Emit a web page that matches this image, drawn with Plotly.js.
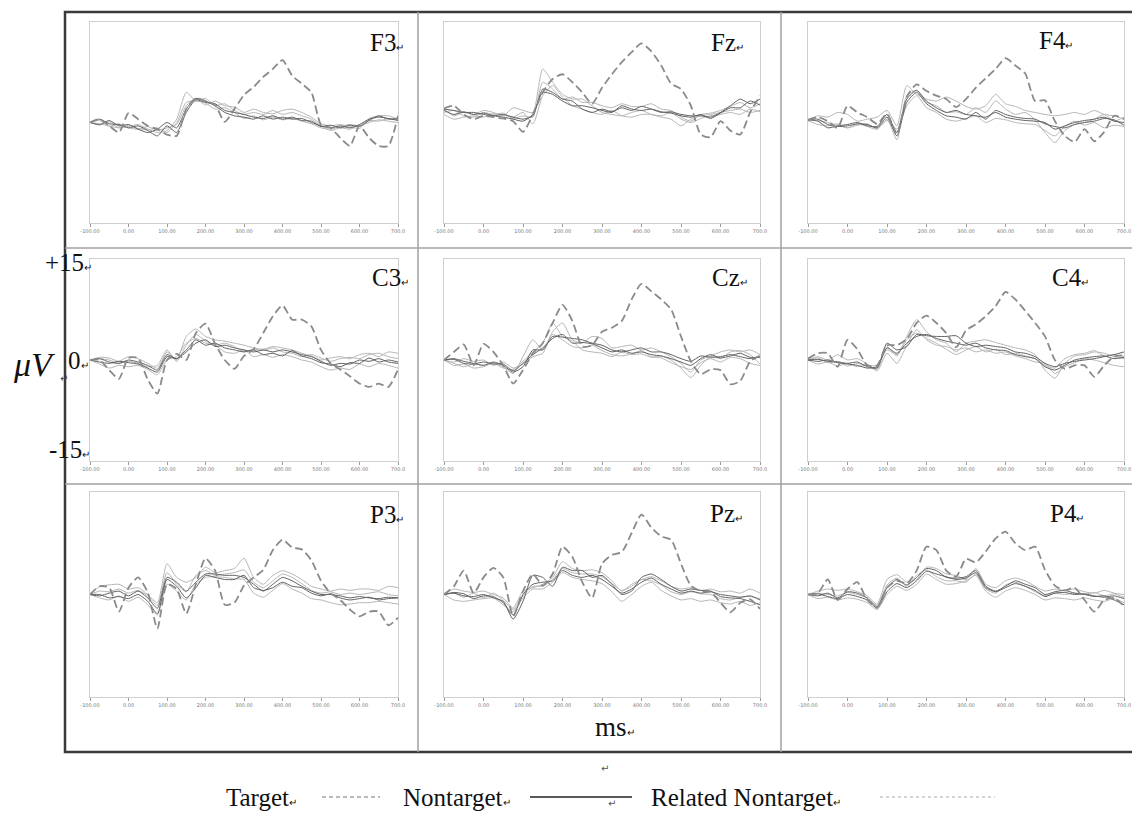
<!DOCTYPE html>
<html><head><meta charset="utf-8">
<script src="https://cdn.plot.ly/plotly-3.0.1.min.js"></script>
<style>html,body{margin:0;padding:0;background:#fff}#chart{width:1132px;height:816px}</style>
</head><body><div id="chart"></div>
<script>
// ---- data (µV) sampled every 25 ms ----
const timeMs = [-100,-75,-50,-25,0,25,50,75,100,125,150,175,200,225,250,275,300,325,350,375,400,425,450,475,500,525,550,575,600,625,650,675,700];
const tickVals = [-100,0,100,200,300,400,500,600,700];
const tickText = ['-100.00','0.00','100.00','200.00','300.00','400.00','500.00','600.00','700.0'];
const electrodes = ['F3','Fz','F4','C3','Cz','C4','P3','Pz','P4'];
const seriesNames = ['Target','Nontarget','Related Nontarget'];

const F3_target    = [0,0.5,-0.5,-1.5,1.4,0.5,-0.5,-1,-1.8,-2,2,3.6,3.2,2.6,0.1,2,4.1,5.3,6.8,8,9.3,7,5.8,4.5,-0.3,-0.8,-2.3,-3.5,-0.5,-2.3,-3.5,-3.5,1];
const F3_nontarget1= [0,-0.3,0.3,-0.5,-0.3,-1,-1.5,-1,0,-0.8,2,3.6,3.2,2.5,1.5,1,0.8,0.5,1,0.5,0.8,0.5,0.6,0,-0.5,-0.8,-0.5,-0.8,-0.3,0.5,0.8,0.6,0.3];
const F3_nontarget2= [0,0.5,-0.2,-0.3,-0.8,-0.5,-1.2,-2,-0.5,-1.5,1.5,3.4,3,2.8,1.8,1.5,1.2,0.8,0.6,1,0.5,0.8,0.3,0.2,-0.6,-0.4,-0.8,-0.4,-0.6,0.3,1,0.5,0.6];
const F3_related1  = [0,-0.2,-0.5,-0.8,-0.6,-0.3,-1,-1.5,-1.2,0.5,4.5,3.2,3.6,2.5,2.8,1.8,1.2,1.5,1.2,1.8,1.2,1.5,1,0.5,-0.5,-1.2,-0.8,-1,-0.4,0.3,0.2,0.6,0.4];
const F3_related2  = [0,0.3,-0.6,-0.2,-0.8,-1,-0.6,-1.2,-0.8,-0.3,2.5,3.6,2.6,3.2,2.5,2.3,1.5,2,1.5,1.3,1.8,2,1.5,0.8,-0.2,-0.5,-0.3,-0.6,-0.9,0.6,1,1,0.5];
const F3_related3  = [0,-0.4,0.1,-0.8,-0.4,-0.9,-1.1,-0.8,-1.5,0,3,3.2,2.9,2,2.2,1.5,0.6,1,0.4,0.8,0.4,0.6,0.2,-0.2,-0.8,-1,-0.6,-0.3,-0.5,0,0.4,0.2,0];

const Fz_target    = [2.1,2.5,1.2,0.5,1,0.8,0.6,0.2,-1.4,1.2,4.5,6.5,7.2,6,4.5,2.8,5.2,7.2,9,10.5,11.8,10.6,8.5,5.8,5,2.5,-1.8,-2.2,0.2,-1.2,-1.8,1.5,4];
const Fz_nontarget1= [2,1.8,1.5,1.5,1.2,1,1.2,0.8,0.5,1,5,4.5,3.5,3.2,2,1.5,2,1.6,2.2,1.8,2.4,2,1.5,1.6,1.2,1,1,0.8,1.5,2.5,3.5,2.8,3.5];
const Fz_nontarget2= [1.8,1.2,1.6,1.2,1.4,1,0.8,0.5,0.2,1.2,4.5,4.2,3.2,2.5,2.5,2.2,1.8,1.5,2.5,2,1.8,2,1.6,1.4,1,0.8,1.2,0.6,1.4,2.2,2.2,3.2,2.6];
const Fz_related1  = [2,1,1.5,1.2,1.8,1.5,1,2.2,1.8,1.5,8,6,4.2,3.5,3.5,2.5,1.5,1.2,1,1.5,1.8,1.2,0.8,0.5,-0.5,0.5,1,1.2,1.5,1.8,2,1.5,1.8];
const Fz_related2  = [1.5,1.8,1,0.8,1.5,1.2,1.4,0.6,1,0.8,6,5,3.5,3.8,3,3,2.5,2.2,2.8,2.4,2.4,2.8,2,1.8,0.8,0.2,1.2,1.4,1.8,2.4,3,2.2,2.8];
const Fz_related3  = [1.2,0.5,0.8,1,0.8,1.3,1.1,0.8,1.5,-0.2,4,5.5,3.8,2.5,2,1.5,1.2,1.8,1,0.8,1.2,1.2,1,1.5,0.5,0,0.6,1,1.2,1.5,1.2,2,1.6];

const F4_target    = [0.4,0.8,0.2,-0.8,2.5,1.5,0.8,-0.2,1.3,-1.8,3.8,5.7,4.7,4,3.5,2.3,3.5,5.2,6.6,8,9.6,8.5,7.3,3.2,3.3,0.2,-2,-2.9,-1,-2.8,-1.4,1,0.5];
const F4_nontarget1= [0.4,0.2,-0.8,-0.5,-0.3,0,-0.5,-0.6,1.2,-1.5,3.5,4.8,3.2,2.2,1.5,1.8,1.2,1,0.8,1.5,0.8,0.5,0.3,0.2,0,-1,-0.5,0,0.3,0.5,0.8,0.2,0];
const F4_nontarget2= [0.4,0.5,-0.3,-0.6,-0.5,-0.2,-0.3,-0.8,0.8,-2,3,4.5,2.8,1.8,1,0.8,0.5,1.5,0.5,1.8,1.2,0.8,0.6,0.5,-0.2,-0.6,-0.8,-0.3,0,0.2,0.6,0.4,-0.4];
const F4_related1  = [0.2,1,0.8,1.5,1.2,0.2,0.5,0.8,1.8,-0.5,5.5,4.2,3.5,3.2,3.8,3.2,2.4,2,2.5,4.2,2.8,2.4,1.8,1.5,1.2,1,1.2,1.5,1.2,1.8,1.2,1,0.5];
const F4_related2  = [0.4,0.3,0,-0.4,-0.8,-0.2,-0.6,-1,0.5,-2.6,4,4.8,3,2.5,1.5,1.6,1.2,2.2,1.5,3.2,2,1.2,1.5,0.4,-1.5,-3,-1.2,-0.3,0,0.5,1.2,0.2,0.8];
const F4_related3  = [0.3,-0.3,-0.5,-0.2,-0.8,-0.4,-0.2,-0.9,0.3,-1,2.5,4,2.2,1.5,0.5,0.2,0.6,1,0,0.6,0.4,0,-0.2,-0.3,-1.2,-2,-0.6,0.2,-0.4,0,-0.8,-0.4,-0.6];

const C3_target    = [0,0,-1.5,-2.8,0.3,0.3,-2.9,-5,0,0.9,0,4,5.4,2.4,0,-1.3,0.6,1.6,4,6.5,8.1,6,6,5,1.5,-0.5,-1.4,-2.4,-3.5,-4,-3.5,-4,-1.4];
const C3_nontarget1= [0,0.2,-0.3,-0.5,0,-0.3,-0.8,-1.5,0.8,0.2,1.2,2.5,3,2,2.2,1.8,1.5,1.2,1.5,1.2,1.5,1.2,0.8,0.5,-0.2,-0.8,-0.5,-0.6,0,-0.2,0.2,-0.3,-0.5];
const C3_nontarget2= [0,-0.3,-0.5,-0.2,-0.4,-0.6,-1.2,-1.8,0.5,0.2,1.5,3,2.2,2.5,1.8,1.5,1.2,1.5,0.8,1,0.6,1.4,0.6,0.2,-0.4,-0.6,-1,-0.4,-0.5,0.3,-0.3,0,-0.3];
const C3_related1  = [0,0.4,0.3,-0.2,0.5,0.2,-0.5,-1.2,1.2,0,3.5,4.6,3.5,3,2.8,2.5,2.2,1.8,1.6,2,1.8,1.5,1,0.6,0,0.3,0.5,0.2,0.8,1,0.5,1.2,1];
const C3_related2  = [0,-0.6,-1.2,-0.8,-1,-0.8,-1.4,-2.2,0,0.5,2.5,3.2,2.5,2.2,1.2,1,1.5,0.5,0.8,0.4,0.8,0.5,0,-0.3,-1,-1.5,-1.2,-1.4,-0.6,-1,-0.5,-0.8,-1.2];
const C3_related3  = [0,0.2,0,-0.5,-0.2,-0.5,-1,-0.8,1.5,-0.2,2.2,3.8,2.8,2.2,2.5,2,1.2,1.6,1.4,1.8,1.2,1,0.5,0.8,0.3,-0.2,0.2,0.4,0.2,0.8,1,0.5,0.2];

const Cz_target    = [0,1.2,2.3,-0.8,2.4,1.2,-0.8,-3.5,-1.5,1,2.5,5.5,8.2,5.8,2,2.2,4.2,4.8,5.8,9,11.3,10.2,9,7.5,3.5,-0.2,-2.1,-1.4,-1.5,-3.6,-3.1,-0.2,0.6];
const Cz_nontarget1= [0,0.2,-0.2,-0.5,-0.8,-0.3,-0.8,-1.8,-1,1.5,1.5,3.5,3.4,3.2,3,2.5,2.2,1.5,1.2,1.5,1.8,1.2,1.2,0.8,0.2,-0.2,0.6,0.4,0.5,0.8,0.5,0.2,0.6];
const Cz_nontarget2= [0,0.1,-0.5,-0.6,-0.3,-0.6,-0.6,-1.6,-0.5,0.8,1.8,3.2,3.8,2.5,2.6,2.4,1.8,1.2,1.5,1,1.2,0.8,0.6,0.2,-0.3,-0.8,0.2,0.8,0.3,0.6,1,0.4,0.4];
const Cz_related1  = [0,-0.5,-1,-0.6,-0.8,-0.4,-1,-2,0.5,3,1.5,4.2,5.5,3,2.5,3.5,3.2,1.8,2,2.2,1.5,1.8,1.2,0.5,-0.5,-1.8,0,0.6,1.2,1.5,1.2,1.5,0.8];
const Cz_related2  = [0,-0.8,-0.6,-1.2,-1,-0.5,-1.2,-1.4,-0.2,1.2,2.5,5.5,3.5,2.8,1.5,1.2,1,0.5,1.2,0.8,0.9,0.4,0.6,0,-1.2,-2.6,-0.8,0.5,0.2,1.2,1.4,0.8,-0.6];
const Cz_related3  = [0,-0.3,0.2,-0.2,0,-0.8,-0.3,-1.2,-0.6,0.5,1,3.8,3,2,1.8,2.2,1.4,0.8,0.6,0.9,1.4,0.5,0.3,-0.4,-1,-1.4,-0.4,0.2,-0.3,0.4,0.2,-0.5,-0.8];

const C4_target    = [0.2,1,1,-1,3,1.6,-0.8,-0.8,2.2,2.2,3.1,5.5,6.6,5.5,4,1.9,4.4,5.3,6.5,8,10.1,9,7.3,5.5,3.5,0,-1.3,-0.8,-0.8,-2.5,-0.8,0.5,0.7];
const C4_nontarget1= [0,0.1,-0.2,-0.3,-0.5,-0.3,-1,-1.2,2.5,1.5,2,3.8,3.6,3.5,3.5,3.6,2.5,2,2.2,2,1.8,1.2,1,0.5,-0.5,-1,-0.5,-0.2,0,0.2,0.5,0.8,1.2];
const C4_nontarget2= [0,-0.2,0,-0.4,-0.6,-0.8,-1.2,-1,1.8,1,2.5,3.5,3.8,3.2,2.8,2.5,2.2,2.5,1.8,1.5,1.4,0.8,0.5,0.2,-1,-1.5,-0.8,0,0.3,0.5,0.6,0.2,0.4];
const C4_related1  = [0,0.5,0,0.8,0,0.2,-0.6,-1.4,2,0.6,3.5,6,4.2,3,2.5,1.2,2.5,2.8,3,2.6,2.2,1.8,1.5,0.8,-1.5,-2.7,-0.5,0.6,0.8,1.2,1,0.5,0.2];
const C4_related2  = [0,-0.6,-0.3,-0.9,-0.5,-1,-0.7,-1.6,1,-0.5,2.2,4.5,3,2.2,2,1.5,1.8,1.2,1.5,1,1.2,0.6,0.2,-0.3,-0.5,-2,-1,-0.4,0.2,0,-0.4,-0.8,-1];
const C4_related3  = [0,0.3,-0.4,-0.2,-0.9,-0.5,-0.8,-0.8,1.5,0.8,3,4,3.2,2.5,1.6,0.8,1.5,2,1.2,1.6,0.8,1,0.6,0.2,-0.8,-1.2,0.2,0.8,1,1.4,0.6,0.8,0.5];

const P3_target    = [0,1.2,1,-2.5,1,2.5,0.3,-5,1.5,0.8,-2.8,1.5,5.3,3.5,-1.5,-1.2,1.3,2.5,3.6,6.5,8,6.9,6.6,5,2,0.2,-0.8,-2.2,-3.2,-2.5,-2.5,-4.5,-3.4];
const P3_nontarget1= [0,-0.2,0.2,0.5,-0.2,0.5,-0.5,-2,2.5,1.8,0.5,1.8,3,3,2.8,2.8,2.5,1.5,0.5,1.5,2.5,2,1.2,0.5,0,0,-0.2,-0.5,-0.3,-0.5,-0.6,-0.4,-0.5];
const P3_nontarget2= [0,0,-0.5,-0.3,-0.6,0,-1,-2.8,2.2,1.2,-0.5,1,2.8,2.5,2.2,2.2,2.8,1,0.6,1,1.8,1.2,1,0.2,-0.2,0.1,-0.5,-0.8,-0.6,-0.4,-0.8,-0.6,-0.5];
const P3_related1  = [0,1.2,1.4,1.5,0.8,1,0,-1.2,4.5,2.5,1.8,2.5,4,3.2,3.5,3.8,5.3,2.5,1.5,2.8,3.5,3,2.2,1.2,0.8,0.5,0.8,0.6,0.8,0.8,0.6,1.2,1];
const P3_related2  = [0,-0.5,-0.8,-0.2,-1,-0.4,-1.5,-3,1.5,0.5,-0.8,1.5,2.5,2.6,2.5,2.3,2.2,0.2,-0.4,0.6,1.6,0.8,0.2,-0.6,-0.8,-1.2,-1.5,-1.4,-1.2,-1.2,-1,-1.2,-1.4];
const P3_related3  = [0,0.5,0.4,0.8,0.2,0.6,-0.2,-1.6,3.2,1.5,0.4,2.8,3.5,2.8,3,3.2,3.6,1.8,1,2,3,2.5,1.6,0.6,0.2,0.4,0,0.2,0,0.2,0.4,0,-0.2];

const Pz_target    = [0,1.2,3.5,0.2,2.5,3.9,2.5,-3.2,0.5,3,1.3,3,7,5.5,1.8,-0.5,4.5,5.8,6.2,9,11.7,9.8,8.5,8,4.5,1.3,0.5,0.4,-1.2,-2.6,-1.2,-0.7,-2.1];
const Pz_nontarget1= [0,0.2,-0.2,-0.3,0,-0.5,-1,-3.6,-1,2.8,2.5,1.2,4,3.5,3.5,2.5,2.8,1.5,0,0.5,2.5,3,2.2,1.2,0.5,0.8,0.6,0.5,-0.3,-0.5,-0.6,-1,-1.5];
const Pz_nontarget2= [0,0.3,0.1,-0.6,-0.2,-0.3,-1.2,-3,0,1.5,1.8,2,3.5,2.8,2.5,2.8,2.2,1.2,0.2,0.8,1.8,2.4,1.5,0.8,0.2,0.5,0.2,0.4,0,-0.2,-0.4,-0.2,-0.8];
const Pz_related1  = [0,0.8,0.5,0.3,0.5,0,-0.5,-2,0.5,1,1.5,2.5,4.8,3.8,3.5,3.6,3.2,2,0.5,1.5,2.2,2.6,2,1.2,0.8,1,0.6,0.8,0.4,0.5,0.2,0.8,0.2];
const Pz_related2  = [0,-0.8,-1,-0.8,-0.6,-0.5,-1.5,-2.5,-0.5,0.8,0.8,1.8,3.2,2.5,2.2,2,1.6,0.4,-1,0,1.2,1.8,0.6,-0.2,-0.8,-0.6,-1,-0.8,-1.2,-1.4,-1,-1.6,-1.2];
const Pz_related3  = [0,0.2,-0.4,0.2,-0.5,0.2,-0.8,-2.2,-0.2,1.2,1.2,2.2,3.8,3.2,3,3,2.6,1.6,0.6,1.2,2.2,2,1.4,0.4,0,0.4,0.1,0,-0.6,-0.8,-0.4,-0.3,-0.6];

const P4_target    = [0,0.2,2.2,-0.8,0.8,1.8,-0.8,-1.9,1,2,1.6,3.5,7,6.5,3.5,2.6,5.2,4.7,6.3,8.2,9.2,7.5,6.5,7,3.6,1.3,0.6,1,-0.8,-2.5,-0.8,-0.5,-1.7];
const P4_nontarget1= [0,-0.2,0.2,-0.5,0.4,0.2,-0.5,-1.8,1,2.2,1.4,2.5,3.8,3.5,2.5,2.4,2.6,3.5,1.2,0.5,1.2,2,1.5,1,0,0.4,0.6,0.2,0,-0.3,-0.2,-0.8,-1.5];
const P4_nontarget2= [0,0.1,-0.3,-0.6,0,-0.3,-0.8,-2,0.4,1.6,1,2,3.4,3,2.6,2.2,2.4,3.2,1,0.4,1,1.6,1.2,0.6,-0.3,0.2,0.3,0,0.1,-0.2,-0.4,-0.2,-0.6];
const P4_related1  = [0,0.5,0.8,0.6,0.8,0.4,-0.2,-1.4,2.2,2.9,1.8,2.2,4,3.8,3,2.8,2.2,3.8,1.5,1,2,2.4,2,1.2,0.5,0.8,0.6,0.8,0.4,0.2,0.6,0.2,0];
const P4_related2  = [0,-0.6,-0.4,-0.8,-0.5,-0.7,-1.2,-2.2,0,1.2,0.6,1.5,3,2.2,1.5,1.6,2,2.8,0.5,-0.4,0.5,1,0.6,0,-0.8,-0.5,-0.6,-0.8,-0.5,-0.8,-1,-0.6,-1.2];
const P4_related3  = [0,0.2,0,-0.2,0.3,0,-0.5,-1.6,1.4,2.4,1.2,2.8,3.6,2.6,2,2,1.8,3,0.8,0.2,1.4,1.8,1.2,0.4,-0.2,0.2,0,0.2,0,0.3,-0.2,0.1,-0.4];

// ---- assemble ----
const panelData = {
  F3:{t:F3_target,n:[F3_nontarget1,F3_nontarget2],r:[F3_related1,F3_related2,F3_related3]},
  Fz:{t:Fz_target,n:[Fz_nontarget1,Fz_nontarget2],r:[Fz_related1,Fz_related2,Fz_related3]},
  F4:{t:F4_target,n:[F4_nontarget1,F4_nontarget2],r:[F4_related1,F4_related2,F4_related3]},
  C3:{t:C3_target,n:[C3_nontarget1,C3_nontarget2],r:[C3_related1,C3_related2,C3_related3]},
  Cz:{t:Cz_target,n:[Cz_nontarget1,Cz_nontarget2],r:[Cz_related1,Cz_related2,Cz_related3]},
  C4:{t:C4_target,n:[C4_nontarget1,C4_nontarget2],r:[C4_related1,C4_related2,C4_related3]},
  P3:{t:P3_target,n:[P3_nontarget1,P3_nontarget2],r:[P3_related1,P3_related2,P3_related3]},
  Pz:{t:Pz_target,n:[Pz_nontarget1,Pz_nontarget2],r:[Pz_related1,Pz_related2,Pz_related3]},
  P4:{t:P4_target,n:[P4_nontarget1,P4_nontarget2],r:[P4_related1,P4_related2,P4_related3]}
};

const W = 1132, H = 816;
const px = x => x / W, py = y => 1 - y / H;
const cols = [[90,398],[444,760],[808,1124]];
const rows = [[22,223],[259,461],[492,697]];
const labelPos = [[368,42],[709,42],[1037,40],[370,277],[710,277],[1050,277],[368,514],[708,513],[1048,513]];

const serif = 'Liberation Serif, Times New Roman, serif';
const styleTarget = {color:'#8a8a8a', width:1.8, dash:'8px,4px', shape:'spline', smoothing:0.6};
const styleNon = {color:'#626262', width:1, shape:'spline', smoothing:0.6};
const styleRel = {color:'#b6b6b6', width:1, shape:'spline', smoothing:0.6};

const traces = [];
const layout = {
  width: W, height: H, margin:{l:0,r:0,t:0,b:0},
  paper_bgcolor:'#fff', plot_bgcolor:'#fff', showlegend:false,
  annotations:[], shapes:[]
};

electrodes.forEach((el, i) => {
  const k = i + 1, r = Math.floor(i / 3), c = i % 3;
  const xa = 'x' + (k === 1 ? '' : k), ya = 'y' + (k === 1 ? '' : k);
  const d = panelData[el];
  d.r.forEach(v => traces.push({x:timeMs, y:v, xaxis:xa, yaxis:ya, mode:'lines', line:styleRel, name:seriesNames[2], hoverinfo:'skip'}));
  d.n.forEach(v => traces.push({x:timeMs, y:v, xaxis:xa, yaxis:ya, mode:'lines', line:styleNon, name:seriesNames[1], hoverinfo:'skip'}));
  traces.push({x:timeMs, y:d.t, xaxis:xa, yaxis:ya, mode:'lines', line:styleTarget, name:seriesNames[0], hoverinfo:'skip'});

  layout['xaxis' + (k === 1 ? '' : k)] = {
    domain:[px(cols[c][0]), px(cols[c][1])], anchor:ya, range:[-100,700],
    showline:true, mirror:true, linecolor:'#cfcfcf', linewidth:1,
    showgrid:false, zeroline:false, ticks:'outside', ticklen:3, tickcolor:'#9a9a9a', tickwidth:1,
    tickvals:tickVals, ticktext:tickText, tickfont:{size:5, color:'#777', family:'DejaVu Sans'}, tickangle:0
  };
  layout['yaxis' + (k === 1 ? '' : k)] = {
    domain:[py(rows[r][1]), py(rows[r][0])], anchor:xa, range:[-15,15],
    showline:true, mirror:true, linecolor:'#cfcfcf', linewidth:1,
    showgrid:false, zeroline:false, ticks:'', showticklabels:false
  };
  layout.annotations.push({
    xref:'paper', yref:'paper', x:px(labelPos[i][0]), y:py(labelPos[i][1]),
    xanchor:'left', yanchor:'middle', showarrow:false,
    text: el + '<span style="font-size:10px">↵</span>', font:{family:serif, size:25, color:'#111'}
  });
});

// outer frame and dividers
layout.shapes.push({type:'rect', xref:'paper', yref:'paper', x0:px(65), x1:px(1150), y0:py(12), y1:py(752), line:{color:'#3a3a3a', width:2.5}});
[418, 781].forEach(x => layout.shapes.push({type:'line', xref:'paper', yref:'paper', x0:px(x), x1:px(x), y0:py(12), y1:py(752), line:{color:'#a0a0a0', width:1.5}}));
[248, 484].forEach(y => layout.shapes.push({type:'line', xref:'paper', yref:'paper', x0:px(65), x1:px(1132), y0:py(y), y1:py(y), line:{color:'#a0a0a0', width:1.5}}));

// y scale labels and unit labels
const small = s => '<span style="font-size:10px">' + s + '</span>';
[['+15' + small('↵'), 93, 262], ['0' + small('↵'), 90, 360], ['-15' + small('↵'), 91, 449]].forEach(a => layout.annotations.push({
  xref:'paper', yref:'paper', x:px(a[1]), y:py(a[2]), xanchor:'right', yanchor:'middle', showarrow:false, borderpad:0,
  text:a[0], font:{family:serif, size:25, color:'#111'}
}));
layout.annotations.push({xref:'paper', yref:'paper', x:px(34), y:py(364), xanchor:'center', yanchor:'middle', showarrow:false,
  text:'<i>μV</i>', font:{family:serif, size:34, color:'#111'}});
layout.annotations.push({xref:'paper', yref:'paper', x:px(64), y:py(378), xanchor:'center', yanchor:'middle', showarrow:false,
  text:'↵', font:{family:'DejaVu Sans', size:10, color:'#444'}});
layout.annotations.push({xref:'paper', yref:'paper', x:px(593), y:py(727), xanchor:'left', yanchor:'middle', showarrow:false,
  text:'ms' + small('↵'), font:{family:serif, size:27, color:'#111'}});

// legend
const legendY = 797;
const legendItems = [
  {name:seriesNames[0], tx:224, l0:322, l1:380, line:{color:'#777', width:1.2, dash:'4px,3px'}},
  {name:seriesNames[1], tx:401, l0:530, l1:632, line:{color:'#222', width:1.5}},
  {name:seriesNames[2], tx:649, l0:880, l1:995, line:{color:'#aaa', width:1, dash:'dot'}}
];
legendItems.forEach(it => {
  layout.annotations.push({xref:'paper', yref:'paper', x:px(it.tx), y:py(legendY), xanchor:'left', yanchor:'middle', showarrow:false,
    text:it.name + small('↵'), font:{family:serif, size:25, color:'#111'}});
  layout.shapes.push({type:'line', xref:'paper', yref:'paper', x0:px(it.l0), x1:px(it.l1), y0:py(legendY), y1:py(legendY), line:it.line});
});
layout.annotations.push({xref:'paper', yref:'paper', x:px(605), y:py(776), showarrow:false, text:'↵', font:{family:'DejaVu Sans', size:10, color:'#555'}});
layout.annotations.push({xref:'paper', yref:'paper', x:px(612), y:py(811), showarrow:false, text:'↵', font:{family:'DejaVu Sans', size:10, color:'#555'}});

Plotly.newPlot('chart', traces, layout, {staticPlot:true, displayModeBar:false});
</script></body></html>
